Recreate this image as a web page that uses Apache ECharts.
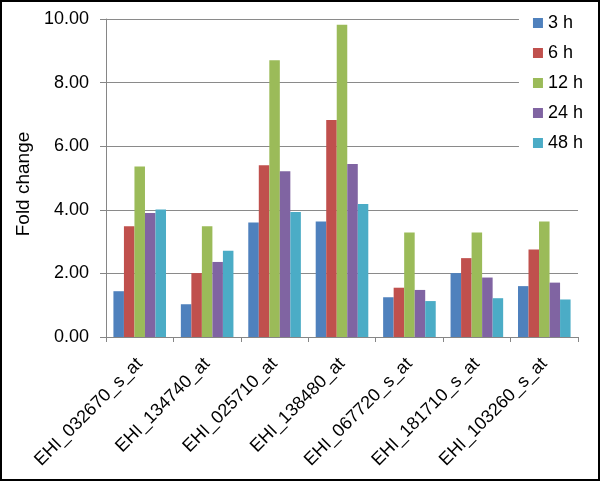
<!DOCTYPE html>
<html>
<head>
<meta charset="utf-8">
<script src="https://cdn.jsdelivr.net/npm/echarts@6/dist/echarts.min.js"></script>
<style>
html, body { margin: 0; padding: 0; background: #fff; }
#wrap { position: relative; width: 600px; height: 481px; }
#chart { width: 600px; height: 481px; }
#frame { position: absolute; left: 0; top: 0; width: 600px; height: 481px; box-sizing: border-box; border: 2px solid #000; pointer-events: none; }
</style>
</head>
<body>
<div id="wrap">
	<div id="chart"></div>
	<div id="frame"></div>
</div>
<script>
var genes = ['EHI_032670_s_at', 'EHI_134740_at', 'EHI_025710_at', 'EHI_138480_at',
	'EHI_067720_s_at', 'EHI_181710_s_at', 'EHI_103260_s_at'];
var times = ['3 h', '6 h', '12 h', '24 h', '48 h'];
var h3 = [1.44, 1.03, 3.60, 3.63, 1.25, 2.01, 1.60];
var h6 = [3.48, 2.01, 5.40, 6.82, 1.55, 2.48, 2.75];
var h12 = [5.36, 3.48, 8.70, 9.82, 3.29, 3.29, 3.63];
var h24 = [3.90, 2.36, 5.21, 5.44, 1.48, 1.87, 1.71];
var h48 = [4.01, 2.71, 3.93, 4.18, 1.13, 1.22, 1.18];
var colors = ['#4F81BD', '#C0504D', '#9BBB59', '#8064A2', '#4BACC6'];

var myChart = echarts.init(document.getElementById('chart'));
var values = [h3, h6, h12, h24, h48];
var series = [];
for (var i = 0; i < times.length; i++) {
	series.push({
		name: times[i],
		type: 'bar',
		data: values[i],
		barGap: 0,
		barCategoryGap: '22%',
		itemStyle: { color: colors[i] }
	});
}

myChart.setOption({
	animation: false,
	textStyle: { fontFamily: 'Liberation Sans, Arial, sans-serif' },
	legend: {
		orient: 'vertical',
		right: 0,
		top: 4,
		itemWidth: 10,
		itemHeight: 10,
		itemGap: 12,
		padding: [10, 17, 8, 14],
		backgroundColor: '#fff',
		icon: 'rect',
		textStyle: { fontSize: 18, color: '#000' },
		data: times
	},
	grid: { left: 106, right: 22, top: 19, bottom: 144, containLabel: false },
	xAxis: {
		type: 'category',
		data: genes,
		axisLine: { lineStyle: { color: '#868686' } },
		axisTick: { show: true, alignWithLabel: false, length: 5, lineStyle: { color: '#868686' } },
		axisLabel: { rotate: 45, fontSize: 18, color: '#000', margin: 24, interval: 0 }
	},
	yAxis: {
		type: 'value',
		min: 0,
		max: 10,
		interval: 2,
		name: 'Fold change',
		nameLocation: 'middle',
		nameGap: 71,
		nameTextStyle: { fontSize: 19, color: '#000', padding: [0, 12, 0, 0] },
		axisLine: { show: true, lineStyle: { color: '#868686' } },
		axisTick: { show: true, length: 6, lineStyle: { color: '#868686' } },
		splitLine: { lineStyle: { color: '#8a8a8a' } },
		axisLabel: {
			fontSize: 18, color: '#000', margin: 17,
			formatter: function (v) { return v.toFixed(2); }
		}
	},
	series: series
});
</script>
</body>
</html>
